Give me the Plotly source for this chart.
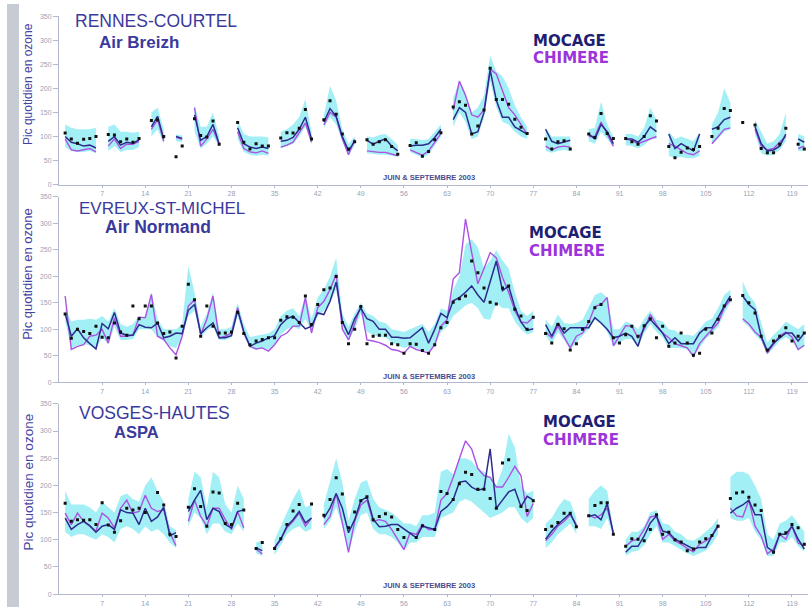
import plotly.graph_objects as go

N = None
days = list(range(1, 122))
tick_days = [7, 14, 21, 28, 35, 42, 49, 56, 63, 70, 77, 84, 91, 98, 105, 112, 119]
y_ticks = [0, 50, 100, 150, 200, 250, 300, 350]

# ---------------- RENNES-COURTEL (Air Breizh) ----------------
rennes_obs = [
    107, 95, 86, 94, 96, 100, N,
    104, 103, 89, 95, 88, 96, N,
    133, 134, 100, N, 58, 80, N,
    137, 102, 99, 132, 84, N, N,
    129, 88, 74, 85, 80, 80, N,
    97, 108, 107, 117, 156, 95, N,
    135, 174, 146, 105, 74, 89, N,
    93, 84, 89, 93, 79, 63, N,
    81, 87, 59, 69, 93, 108, N,
    161, 172, 165, 105, 122, 155, 242,
    177, 177, 167, 136, 119, 106, N,
    N, 95, 74, 89, 91, 74, N,
    N, 105, 98, 148, 106, 96, N,
    96, 89, 84, 100, 143, 132, N,
    79, 56, 67, 76, 73, 79, N,
    100, 117, 158, 154, N, 129, N,
    124, 75, 66, 66, 84, 117, N,
    84, 74]
rennes_mocage = [
    100, 88, 85, 80, 82, 76, N,
    90, 100, 82, 88, 86, 93, N,
    120, 142, 95, N, 100, 96, N,
    145, 92, 100, 125, 85, N, N,
    118, 85, 78, 75, 78, 75, N,
    90, 92, 98, 115, 140, 95, N,
    130, 158, 142, 100, 70, 90, N,
    92, 84, 90, 95, 80, 70, N,
    80, 82, 82, 85, 98, 115, N,
    135, 160, 150, 105, 110, 150, 238,
    175, 140, 140, 120, 112, 105, N,
    N, 115, 90, 85, 88, 92, N,
    N, 105, 95, 125, 110, 85, N,
    95, 95, 88, 100, 120, 110, N,
    105, 75, 85, 78, 70, 105, N,
    115, 120, 135, 140, N, N, N,
    120, 85, 70, 72, 80, 105, N,
    95, 88]
rennes_chimere = [
    95, 72, 70, 72, 75, 68, N,
    80, 95, 75, 84, 84, 90, N,
    115, 135, 90, N, 98, 94, N,
    160, 80, 95, 115, 84, N, N,
    110, 75, 68, 66, 70, 65, N,
    78, 82, 88, 108, 128, 88, N,
    124, 150, 140, 95, 62, 94, N,
    70, 68, 67, 67, 64, 60, N,
    72, 67, 61, 70, 89, 106, N,
    155, 215, 185, 145, 140, 155, 240,
    230, 195, 160, 145, 125, 105, N,
    N, 80, 72, 78, 80, 78, N,
    N, 100, 100, 130, 105, 80, N,
    94, 92, 85, 90, 96, 100, N,
    85, 80, 72, 65, 62, 70, N,
    85, 100, 115, 118, N, N, N,
    115, 80, 72, 75, 88, 100, N,
    75, 80]
rennes_low = [
    78, 70, 68, 68, 70, 65, N,
    70, 80, 68, 72, 72, 78, N,
    100, 115, 85, N, 90, 88, N,
    110, 75, 85, 100, 80, N, N,
    95, 68, 62, 60, 62, 60, N,
    75, 80, 85, 100, 120, 85, N,
    118, 140, 125, 90, 60, 82, N,
    65, 63, 62, 62, 60, 58, N,
    68, 62, 56, 62, 82, 100, N,
    120, 150, 130, 95, 100, 140, 215,
    160, 130, 125, 110, 100, 95, N,
    N, 70, 66, 70, 72, 70, N,
    N, 90, 85, 110, 95, 78, N,
    82, 80, 75, 82, 95, 95, N,
    60, 55, 58, 55, 55, 60, N,
    85, 95, 110, 115, N, N, N,
    105, 65, 60, 62, 72, 90, N,
    70, 70]
rennes_high = [
    125, 118, 115, 115, 115, 118, N,
    120, 125, 110, 110, 108, 110, N,
    150, 160, 115, N, 104, 102, N,
    165, 120, 120, 150, 100, N, N,
    135, 105, 100, 100, 100, 98, N,
    110, 115, 125, 140, 178, 110, N,
    145, 205, 175, 115, 85, 100, N,
    100, 98, 103, 105, 95, 82, N,
    95, 95, 92, 95, 110, 125, N,
    180, 215, 190, 150, 160, 185, 268,
    235, 225, 200, 165, 140, 120, N,
    N, 118, 100, 100, 100, 100, N,
    N, 115, 118, 172, 125, 100, N,
    105, 105, 100, 118, 160, 135, N,
    110, 95, 100, 95, 90, 108, N,
    125, 150, 200, 170, N, N, N,
    135, 110, 85, 90, 105, 150, N,
    105, 100]

# ---------------- EVREUX-ST-MICHEL (Air Normand) ----------------
evreux_obs = [
    129, 83, 100, 96, 92, 106, 85,
    84, 112, 95, 89, 144, 120, 144,
    144, 112, 92, 95, 46, 106, 185,
    156, 87, 144, 106, 93, 93, 95,
    132, 92, 71, 78, 81, 84, 84,
    117, 124, 123, 113, 163, 109, 147,
    175, 178, 200, 113, 73, 100, 143,
    73, 87, 89, 89, 73, 71, 55,
    73, 72, 60, 55, 71, 103, 113,
    151, 158, 163, 229, 207, 178, 151,
    148, 178, 182, 138, 125, 100, 123,
    N, 92, 74, 109, 101, 61, 73,
    100, 115, 141, 147, N, 84, 74,
    90, 106, 87, 107, 120, 84, 106,
    68, 74, 93, 74, 51, 55, 100,
    93, 119, 144, 156, N, 164, 150,
    131, 87, 61, 78, 87, 103, 78,
    87, 93]
evreux_mocage = [
    130, 87, 101, 84, 73, 63, 111,
    101, 132, 93, 89, 89, 109, 104,
    103, 112, 84, 87, 93, 92, 136,
    147, 92, 103, 112, 84, 84, 88,
    136, 96, 68, 74, 78, 84, 88,
    109, 120, 125, 113, 101, 106, 131,
    128, 153, 189, 115, 90, 120, 140,
    120, 115, 100, 100, 85, 85, 83,
    84, 93, 103, 74, 100, 130, 122,
    154, 160, 170, 182, 165, 151, 190,
    229, 173, 182, 142, 114, 98, 101,
    N, 109, 87, 112, 93, 103, 103,
    103, 103, 122, 112, 100, 84, 87,
    93, 87, 68, 106, 119, 106, 93,
    73, 84, 73, 73, 73, 93, 103,
    103, 122, 144, 163, N, 163, 147,
    137, 87, 59, 74, 84, 93, 93,
    78, 93]
evreux_chimere = [
    163, 62, 68, 71, 87, 89, 100,
    74, 122, 87, 87, 89, 123, 122,
    166, 87, 81, 65, 52, 87, 144,
    156, 90, 119, 163, 84, 87, 93,
    141, 93, 68, 63, 65, 59, 71,
    87, 93, 106, 106, 160, 93, 141,
    153, 175, 204, 100, 80, 110, 145,
    80, 78, 75, 70, 62, 60, 55,
    68, 62, 59, 55, 71, 106, 118,
    195, 207, 308, 245, 186, 215, 245,
    235, 198, 170, 135, 114, 112, 123,
    N, 95, 84, 106, 84, 65, 87,
    93, 113, 143, 147, 160, 69, 87,
    107, 106, 84, 100, 128, 109, 93,
    84, 73, 69, 65, 49, 73, 87,
    100, 112, 141, 156, N, 120, 110,
    95, 85, 55, 72, 88, 95, 85,
    62, 70]
evreux_low = [
    115, 65, 70, 72, 70, 62, 85,
    72, 105, 80, 80, 82, 100, 100,
    100, 85, 78, 68, 65, 85, 125,
    135, 85, 98, 105, 80, 80, 85,
    125, 88, 65, 62, 65, 62, 72,
    90, 100, 105, 100, 120, 95, 125,
    135, 150, 175, 100, 80, 100, 130,
    95, 90, 85, 85, 75, 70, 65,
    68, 65, 60, 58, 68, 95, 105,
    125, 135, 145, 150, 140, 120, 118,
    150, 140, 140, 115, 100, 90, 95,
    N, 88, 72, 95, 80, 62, 75,
    88, 100, 118, 110, 95, 68, 75,
    82, 82, 66, 92, 110, 95, 85,
    65, 65, 65, 62, 48, 65, 82,
    92, 105, 130, 150, N, 115, 105,
    90, 78, 52, 65, 78, 85, 78,
    60, 68]
evreux_high = [
    140, 115, 118, 118, 120, 118, 125,
    115, 140, 110, 105, 110, 125, 120,
    170, 120, 100, 100, 100, 110, 220,
    170, 105, 130, 170, 100, 100, 105,
    150, 110, 85, 88, 90, 92, 100,
    125, 135, 140, 125, 165, 120, 160,
    175, 200, 235, 130, 105, 130, 150,
    130, 125, 115, 112, 100, 98, 95,
    100, 105, 110, 95, 110, 140, 135,
    175, 200, 260, 270, 255, 215, 230,
    250, 230, 215, 170, 135, 125, 135,
    N, 118, 105, 128, 112, 110, 112,
    118, 140, 165, 170, 160, 100, 100,
    115, 110, 100, 120, 135, 118, 115,
    100, 98, 90, 90, 88, 100, 115,
    120, 140, 165, 175, N, 190, 165,
    150, 110, 75, 90, 100, 115, 108,
    100, 110]

# ---------------- VOSGES-HAUTES (ASPA) ----------------
vosges_obs = [
    167, 134, 137, 136, 137, 128, 168,
    127, 114, 135, 158, 155, 158, 150,
    N, 187, 164, 110, 106, N, 160,
    194, 161, 125, 188, 186, 130, 128,
    167, 155, N, 84, 95, N, 84,
    102, 128, 153, 165, N, 166, N,
    145, 174, 214, 184, 122, 151, 172,
    179, 137, 143, 148, 142, 119, 104,
    N, 104, 126, N, 119, 189, 185,
    174, 203, 224, 220, 193, 193, 176,
    158, 241, 247, N, 161, 154, 172,
    N, 119, 125, 132, 149, 149, 124,
    N, 144, 163, 168, 168, 110, N,
    88, 102, 101, 98, 119, 146, 110,
    114, 100, 96, 80, 83, 96, 102,
    108, 125, N, 176, 186, 188, 178,
    164, 154, N, 77, 110, 113, 128,
    122, 92]
vosges_mocage = [
    140, 119, 128, 134, 126, 114, 125,
    128, 119, 155, 150, 149, 128, 158,
    134, 142, 160, 107, 113, N, 152,
    173, 191, 137, 158, 152, 128, 122,
    152, 155, N, 85, 80, N, 86,
    101, 125, 137, 152, 131, 140, N,
    140, 158, 185, 158, 113, 137, 172,
    179, 138, 124, 125, 128, 128, 120,
    113, 104, 125, 122, 119, 152, 161,
    174, 206, 208, 197, 191, 194, 267,
    158, 173, 188, 193, 161, 180, 173,
    N, 101, 116, 128, 138, 149, 125,
    N, 143, 146, 137, 167, 110, N,
    77, 88, 88, 107, 131, 144, 116,
    113, 101, 95, 89, 83, 86, 86,
    107, 125, N, 149, 158, 164, 173,
    146, 146, 86, 78, 110, 110, 125,
    101, 83]
vosges_chimere = [
    149, 128, 149, 134, 125, 116, 149,
    140, 122, 158, 173, 149, 152, 182,
    158, 152, 155, 113, 89, N, 134,
    173, 143, 125, 158, 158, 137, 119,
    152, 122, N, 83, 74, N, 83,
    101, 122, 134, 149, 125, 140, N,
    128, 143, 185, 134, 77, 134, 164,
    173, 134, 137, 134, 119, 101, 82,
    113, 110, 128, 119, 119, 173, 185,
    215, 249, 282, 267, 231, 218, 215,
    197, 197, 215, 235, 218, 143, 167,
    N, 98, 110, 125, 134, 146, 128,
    N, 146, 140, 146, 158, 114, N,
    88, 98, 101, 119, 142, 144, 101,
    110, 98, 92, 84, 78, 92, 98,
    107, 128, N, 158, 144, 142, 173,
    125, 107, 74, 83, 110, 101, 126,
    94, 89]
vosges_low = [
    115, 105, 110, 110, 105, 100, 110,
    105, 95, 120, 125, 120, 110, 125,
    115, 120, 110, 95, 85, N, 125,
    150, 140, 110, 130, 130, 115, 110,
    130, 115, N, 75, 70, N, 72,
    90, 110, 120, 125, 115, 120, N,
    120, 135, 160, 125, 80, 115, 145,
    150, 120, 110, 110, 105, 95, 80,
    95, 95, 105, 105, 105, 140, 145,
    150, 170, 175, 170, 160, 150, 140,
    145, 150, 160, 160, 140, 130, 140,
    N, 85, 95, 110, 120, 130, 110,
    N, 125, 125, 120, 140, 105, N,
    70, 78, 80, 90, 110, 125, 95,
    95, 88, 82, 75, 70, 75, 80,
    92, 110, N, 140, 135, 135, 140,
    115, 100, 70, 70, 95, 95, 105,
    88, 78]
vosges_high = [
    190, 165, 165, 165, 160, 150, 170,
    160, 150, 180, 185, 175, 170, 200,
    215, 190, 170, 125, 118, N, 175,
    225, 215, 160, 225, 215, 165, 150,
    200, 175, N, 95, 98, N, 100,
    125, 150, 175, 195, 160, 165, N,
    165, 210, 250, 205, 135, 175, 205,
    210, 175, 160, 155, 150, 140, 130,
    130, 125, 145, 145, 150, 225, 230,
    220, 250, 250, 245, 230, 225, 215,
    200, 230, 295, 270, 200, 185, 190,
    N, 130, 140, 160, 175, 170, 140,
    N, 175, 190, 200, 190, 120, N,
    100, 115, 115, 125, 150, 155, 130,
    128, 115, 110, 100, 98, 105, 115,
    125, 140, N, 215, 225, 225, 220,
    200, 175, 110, 100, 130, 135, 145,
    130, 115]

# ---------------- drawing ----------------
W, H = 808, 610


def px(x):
    return x / W


def py(y):
    return 1 - y / H


AXIS_COL = "#b3b7cf"
TICK_COL = "#9a9fb6"
BAND_COL = "rgba(100,228,238,0.60)"
MOC_COL = "#2c2c8c"
CHI_COL = "#ab52e2"
TITLE_COL = "#3a3a9c"
FONT = "Liberation Sans, Arial, sans-serif"
LEGEND_FONT = "DejaVu Sans, Liberation Sans, sans-serif"

panels = [
    dict(station="RENNES-COURTEL", network="Air Breizh",
         obs=rennes_obs, moc=rennes_mocage, chi=rennes_chimere,
         low=rennes_low, high=rennes_high,
         y0=182.7, y350=12.3,
         st=(73, 17.5, 17.5), net=(97, 38.5, 17), legend=(531, 37, 54.5),
         ytitle=(28, 81, 12), note_y=175.5),
    dict(station="EVREUX-ST-MICHEL", network="Air Normand",
         obs=evreux_obs, moc=evreux_mocage, chi=evreux_chimere,
         low=evreux_low, high=evreux_high,
         y0=382.7, y350=195.2,
         st=(77, 206.5, 17), net=(103, 226, 17.5), legend=(527, 232, 249.5),
         ytitle=(28, 273, 13), note_y=377),
    dict(station="VOSGES-HAUTES", network="ASPA",
         obs=vosges_obs, moc=vosges_mocage, chi=vosges_chimere,
         low=vosges_low, high=vosges_high,
         y0=597.0, y350=404.5,
         st=(77, 413.5, 17.5), net=(112, 432.5, 16.5), legend=(541, 422.5, 441),
         ytitle=(28, 484, 13.5), note_y=588.5),
]


def runs(values):
    out, cur = [], []
    for i, v in enumerate(values):
        if v is None:
            if cur:
                out.append(cur)
                cur = []
        else:
            cur.append(i)
    if cur:
        out.append(cur)
    return out


fig = go.Figure()
annotations = []
layout_axes = {}

for k, p in enumerate(panels, start=1):
    xa = "x" if k == 1 else f"x{k}"
    ya = "y" if k == 1 else f"y{k}"

    # ensemble spread
    for run in runs(p["low"]):
        xs = [days[i] for i in run]
        hi = [p["high"][i] for i in run]
        lo = [p["low"][i] for i in run]
        fig.add_trace(go.Scatter(
            x=xs + xs[::-1], y=hi + lo[::-1], fill="toself",
            fillcolor=BAND_COL, line=dict(width=0), mode="lines",
            hoverinfo="skip", xaxis=xa, yaxis=ya))

    fig.add_trace(go.Scatter(x=days, y=p["chi"], mode="lines", name="CHIMERE",
                             line=dict(color=CHI_COL, width=1.4),
                             xaxis=xa, yaxis=ya))
    fig.add_trace(go.Scatter(x=days, y=p["moc"], mode="lines", name="MOCAGE",
                             line=dict(color=MOC_COL, width=1.5),
                             xaxis=xa, yaxis=ya))
    fig.add_trace(go.Scatter(x=days, y=p["obs"], mode="markers", name="Mesures",
                             marker=dict(symbol="square", size=3, color="#111111"),
                             xaxis=xa, yaxis=ya))

    xkey = "xaxis" if k == 1 else f"xaxis{k}"
    ykey = "yaxis" if k == 1 else f"yaxis{k}"
    layout_axes[xkey] = dict(
        domain=[px(59), 1.0], range=[0, 121.6], anchor=ya,
        tickmode="array", tickvals=tick_days, ticktext=[str(d) for d in tick_days],
        ticks="outside", ticklen=2, tickcolor=AXIS_COL,
        showline=True, linecolor=AXIS_COL, linewidth=1,
        showgrid=False, zeroline=False,
        tickfont=dict(family=FONT, size=7, color=TICK_COL))
    layout_axes[ykey] = dict(
        domain=[py(p["y0"]), py(p["y350"])], range=[0, 350], anchor=xa,
        tickmode="array", tickvals=y_ticks,
        ticks="outside", ticklen=5, tickcolor=AXIS_COL,
        showline=True, linecolor=AXIS_COL, linewidth=1,
        showgrid=False, zeroline=False,
        tickfont=dict(family=FONT, size=7, color=TICK_COL))

    sx, sy, ss = p["st"]
    annotations.append(dict(x=px(sx), y=py(sy), xref="paper", yref="paper",
                            xanchor="left", yanchor="middle", showarrow=False,
                            text=p["station"],
                            font=dict(family=FONT, size=ss, color=TITLE_COL)))
    nx, ny, ns = p["net"]
    annotations.append(dict(x=px(nx), y=py(ny), xref="paper", yref="paper",
                            xanchor="left", yanchor="middle", showarrow=False,
                            text="<b>" + p["network"] + "</b>",
                            font=dict(family=FONT, size=ns, color=TITLE_COL)))
    lx, ly1, ly2 = p["legend"]
    annotations.append(dict(x=px(lx), y=py(ly1), xref="paper", yref="paper",
                            xanchor="left", yanchor="middle", showarrow=False,
                            text="<b>MOCAGE</b>",
                            font=dict(family=LEGEND_FONT, size=15, color="#1e1e72")))
    annotations.append(dict(x=px(lx), y=py(ly2), xref="paper", yref="paper",
                            xanchor="left", yanchor="middle", showarrow=False,
                            text="<b>CHIMERE</b>",
                            font=dict(family=LEGEND_FONT, size=15, color="#9b34da")))
    tx, ty, ts = p["ytitle"]
    annotations.append(dict(x=px(tx), y=py(ty), xref="paper", yref="paper",
                            xanchor="center", yanchor="middle", showarrow=False,
                            textangle=-90, text="Pic quotidien en ozone",
                            font=dict(family=FONT, size=ts, color="#4343a3")))
    annotations.append(dict(x=px(429), y=py(p["note_y"]), xref="paper", yref="paper",
                            xanchor="center", yanchor="middle", showarrow=False,
                            text="<b>JUIN &amp; SEPTEMBRE 2003</b>",
                            font=dict(family=FONT, size=7.5, color="#4b4b90")))

fig.update_layout(
    width=W, height=H,
    margin=dict(l=0, r=0, t=0, b=0),
    paper_bgcolor="white", plot_bgcolor="white",
    showlegend=False,
    annotations=annotations,
    shapes=[dict(type="rect", xref="paper", yref="paper",
                 x0=px(7), x1=px(19), y0=0, y1=1,
                 fillcolor="#c7cbd4", line=dict(width=0), layer="below")],
    **layout_axes,
)

fig.write_html("out.html")
